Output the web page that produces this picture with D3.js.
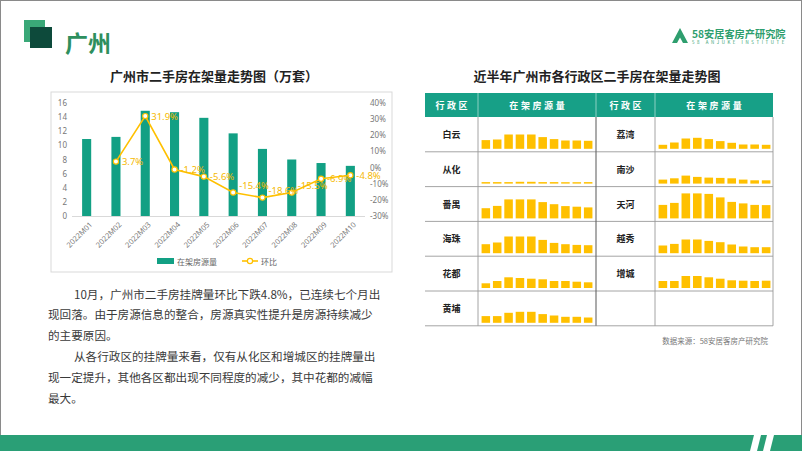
<!DOCTYPE html>
<html><head><meta charset="utf-8">
<script src="https://cdn.jsdelivr.net/npm/d3@7"></script>
<style>
html,body{margin:0;padding:0;background:#fff;}
svg{display:block;font-family:"Noto Sans CJK SC","Noto Sans",sans-serif;}
</style></head><body>
<svg id="c" width="802" height="451"></svg>
<script>
// ---------- data ----------
const months = ["2022M01","2022M02","2022M03","2022M04","2022M05","2022M06","2022M07","2022M08","2022M09","2022M10"];
const stock = [10.9, 11.2, 14.9, 14.7, 13.9, 11.7, 9.5, 8.0, 7.5, 7.1];
const mom = [null, 3.7, 31.9, -1.2, -5.6, -15.4, -18.6, -15.5, -6.9, -4.8];
const leftTicks = [0, 2, 4, 6, 8, 10, 12, 14, 16];
const rightTicks = [-30, -20, -10, 0, 10, 20, 30, 40];
const legendNames = ["在架房源量", "环比"];

const districtsLeft = ["白云", "从化", "番禺", "海珠", "花都", "黄埔"];
const districtsRight = ["荔湾", "南沙", "天河", "越秀", "增城"];
const baiyun  = [8.7, 9.3, 14.3, 14.3, 14.3, 11.7, 9.7, 8.3, 8.3, 8.0];
const conghua = [1.5, 1.5, 1.5, 1.8, 1.8, 1.5, 1.5, 1.4, 1.4, 1.5];
const panyu   = [10.2, 12.5, 19, 19, 19, 16.3, 14.2, 12.3, 11.7, 11];
const haizhu  = [9, 10.7, 16.7, 16.7, 16.7, 13.3, 10.3, 9, 8.3, 8];
const huadu   = [4.7, 7, 10.7, 10, 9.3, 8.7, 7, 7, 6.3, 5.7];
const huangpu = [6.7, 6.7, 10, 11, 11, 8.7, 7.3, 6, 6, 5.3];
const liwan   = [4, 6.3, 10.3, 11, 9.7, 7.7, 6, 4.3, 4.3, 4];
const nansha  = [4, 5.3, 8, 6.7, 6, 5.7, 5.3, 4, 3.3, 3.3];
const tianhe  = [13.5, 15.5, 25, 25, 24.5, 21, 16.5, 15, 13.5, 13.3];
const yuexiu  = [7.7, 9.3, 13.7, 13.7, 12.3, 11, 8.7, 6.7, 6, 6];
const zengcheng = [7, 7, 12, 12, 10.7, 9.3, 7.7, 7.3, 7, 7.3];
const valuesLeft = [baiyun, conghua, panyu, haizhu, huadu, huangpu];
const valuesRight = [liwan, nansha, tianhe, yuexiu, zengcheng];

const paragraph = [
  "10月，广州市二手房挂牌量环比下跌4.8%，已连续七个月出",
  "现回落。由于房源信息的整合，房源真实性提升是房源持续减少",
  "的主要原因。",
  "从各行政区的挂牌量来看，仅有从化区和增城区的挂牌量出",
  "现一定提升，其他各区都出现不同程度的减少，其中花都的减幅",
  "最大。"
];

// ---------- drawing ----------
const svg = d3.select("#c");
const TEAL = "#12a084", YEL = "#FFC000";

svg.append("rect").attr("x",0.5).attr("y",0.5).attr("width",801).attr("height",450)
  .attr("fill","#fff").attr("stroke","#8a8a8a");

// header
svg.append("rect").attr("x",24).attr("y",20).attr("width",21).attr("height",22).attr("fill","#3aa878");
svg.append("rect").attr("x",30).attr("y",27).attr("width",22).attr("height",21).attr("fill","#0d4a3b");
svg.append("text").attr("x",65).attr("y",42).attr("dominant-baseline","central")
  .attr("font-size",23).attr("font-weight",700).attr("fill","#2e8f5e").text("广州");

// logo
const lg = svg.append("g");
lg.append("path").attr("d","M672,43 L680,28 L688,43 Z").attr("fill","#2e9e6e");
lg.append("path").attr("d","M677,43 L680,37.5 L683,43 Z").attr("fill","#fff");
lg.append("text").attr("x",692).attr("y",33).attr("dominant-baseline","central")
  .attr("font-size",10.2).attr("font-weight",700).attr("fill","#2e9e6e").text("58安居客房产研究院");
lg.append("text").attr("x",692).attr("y",42).attr("dominant-baseline","central")
  .attr("font-size",4.4).attr("letter-spacing",2.6).attr("fill","#2e9e6e").text("58 ANJUKE INSTITUTE");

// titles
svg.append("text").attr("x",214).attr("y",75).attr("text-anchor","middle").attr("dominant-baseline","central")
  .attr("font-size",13).attr("font-weight",700).attr("fill","#222").text("广州市二手房在架量走势图（万套）");
svg.append("text").attr("x",597).attr("y",75).attr("text-anchor","middle").attr("dominant-baseline","central")
  .attr("font-size",13).attr("font-weight",700).attr("fill","#222").text("近半年广州市各行政区二手房在架量走势图");

// ---------- left chart ----------
svg.append("rect").attr("x",51).attr("y",92).attr("width",341).attr("height",180)
  .attr("fill","none").attr("stroke","#d9d9d9");

const x = d3.scaleBand().domain(months).range([72,365]).paddingInner(0.69).paddingOuter(0.345);
const yL = d3.scaleLinear().domain([0,16]).range([216,103]);
const yR = d3.scaleLinear().domain([-30,40]).range([216,103]);
const cx = m => x(m) + x.bandwidth()/2;

const ch = svg.append("g");
ch.selectAll("rect.bar").data(stock).join("rect").attr("class","bar")
  .attr("x",(d,i)=>x(months[i])).attr("width",x.bandwidth())
  .attr("y",d=>yL(d)).attr("height",d=>yL(0)-yL(d)).attr("fill",TEAL);

ch.append("line").attr("x1",72).attr("x2",365).attr("y1",216.5).attr("y2",216.5).attr("stroke","#d9d9d9");

const axL = d3.axisLeft(yL).tickValues(leftTicks).tickSize(0).tickPadding(0);
const gL = ch.append("g").attr("transform","translate(67,0)").call(axL);
gL.select(".domain").remove();
gL.selectAll("text").attr("font-size",8).attr("fill","#777").attr("font-family","Noto Sans, sans-serif");

const axR = d3.axisRight(yR).tickValues(rightTicks).tickFormat(d=>d+"%").tickSize(0).tickPadding(0);
const gR = ch.append("g").attr("transform","translate(370,0)").call(axR);
gR.select(".domain").remove();
gR.selectAll("text").attr("font-size",8).attr("fill","#777").attr("font-family","Noto Sans, sans-serif");

// x labels
ch.selectAll("text.xl").data(months).join("text").attr("class","xl")
  .attr("transform",d=>`translate(${cx(d)+4},223) rotate(-45)`)
  .attr("text-anchor","end").attr("dominant-baseline","central")
  .attr("font-size",7.5).attr("fill","#777").attr("font-family","Noto Sans, sans-serif").text(d=>d);

// line
const pts = mom.map((v,i)=>({m:months[i],v})).filter(d=>d.v!==null);
const line = d3.line().x(d=>cx(d.m)).y(d=>yR(d.v));
ch.append("path").datum(pts).attr("d",line).attr("fill","none").attr("stroke",YEL).attr("stroke-width",1.6);
ch.selectAll("circle.pt").data(pts).join("circle").attr("class","pt")
  .attr("cx",d=>cx(d.m)).attr("cy",d=>yR(d.v)).attr("r",2.6)
  .attr("fill","#fff").attr("stroke",YEL).attr("stroke-width",1.2);
ch.selectAll("text.lab").data(pts).join("text").attr("class","lab")
  .attr("x",d=>cx(d.m)+6).attr("y",d=>yR(d.v) - (d.v < -10 ? 7 : 0))
  .attr("dominant-baseline","central").attr("font-size",9.5).attr("fill","#F5B800")
  .attr("font-family","Noto Sans, sans-serif").text(d=>d.v.toFixed(1)+"%");

// legend
const leg = ch.append("g");
leg.append("rect").attr("x",157).attr("y",258).attr("width",17).attr("height",6).attr("fill",TEAL);
leg.append("text").attr("x",177).attr("y",261).attr("dominant-baseline","central")
  .attr("font-size",8).attr("fill","#666").text(legendNames[0]);
leg.append("line").attr("x1",242).attr("x2",258).attr("y1",261).attr("y2",261).attr("stroke",YEL).attr("stroke-width",1.6);
leg.append("circle").attr("cx",250).attr("cy",261).attr("r",2.6).attr("fill","#fff").attr("stroke",YEL).attr("stroke-width",1.2);
leg.append("text").attr("x",261).attr("y",261).attr("dominant-baseline","central")
  .attr("font-size",8).attr("fill","#666").text(legendNames[1]);

// paragraph
svg.selectAll("text.para").data(paragraph).join("text").attr("class","para")
  .attr("x",(d,i)=> (i===0||i===3) ? 74 : 48)
  .attr("y",(d,i)=>293.5 + i*20.8).attr("dominant-baseline","central")
  .attr("font-size",11.6).attr("fill","#3a3a3a").text(d=>d);

// ---------- right table ----------
const T = {x0:425, c1:478, c2:596, c3:655, x1:773, top:93, head:117, rowH:34.8, nRows:6};
const tb = svg.append("g");
tb.append("rect").attr("x",T.x0).attr("y",T.top).attr("width",T.x1-T.x0).attr("height",T.head-T.top).attr("fill","#17a087");
[T.c1, T.c2, T.c3].forEach(xx=>{
  tb.append("line").attr("x1",xx).attr("x2",xx).attr("y1",T.top).attr("y2",T.head).attr("stroke","#ffffff").attr("stroke-opacity",0.5);
});
const headers = [["行政区",(T.x0+T.c1)/2],["在架房源量",(T.c1+T.c2)/2],["行政区",(T.c2+T.c3)/2],["在架房源量",(T.c3+T.x1)/2]];
headers.forEach(([t,xx])=>{
  tb.append("text").attr("x",xx+1.3).attr("y",(T.top+T.head)/2).attr("text-anchor","middle").attr("dominant-baseline","central")
    .attr("font-size",9).attr("font-weight",700).attr("letter-spacing",2.6).attr("fill","#fff")
    .attr("font-family","Noto Sans CJK SC, serif").text(t);
});
const bottom = T.head + T.rowH*T.nRows;
for (let r=1; r<=T.nRows; r++){
  const yy = T.head + r*T.rowH;
  tb.append("line").attr("x1",T.x0).attr("x2",T.x1).attr("y1",yy).attr("y2",yy).attr("stroke","#9a9a9a").attr("stroke-width",0.9);
}
[T.c1, T.c2, T.c3, T.x1].forEach(xx=>{
  tb.append("line").attr("x1",xx).attr("x2",xx).attr("y1",T.head).attr("y2",bottom)
    .attr("stroke", xx===T.c2 ? "#666" : "#9a9a9a").attr("stroke-width", xx===T.c2?1.1:0.9);
});

const allVals = valuesLeft.concat(valuesRight).flat();
const hScale = d3.scaleLinear().domain([0, d3.max(allVals)]).range([0, 25]);
function cell(name, vals, r, nameX, bx0, bx1){
  const yTop = T.head + r*T.rowH;
  tb.append("text").attr("x",nameX).attr("y",yTop + T.rowH/2).attr("text-anchor","middle").attr("dominant-baseline","central")
    .attr("font-size",9).attr("font-weight",700).attr("fill","#222").text(name);
  const bx = d3.scaleBand().domain(d3.range(vals.length)).range([bx0,bx1]).paddingInner(0.25).paddingOuter(0.05);
  const base = yTop + T.rowH - 3;
  tb.selectAll(null).data(vals).join("rect")
    .attr("x",(d,i)=>bx(i)).attr("width",bx.bandwidth())
    .attr("y",d=>base - hScale(d)).attr("height",d=>hScale(d)).attr("fill",YEL);
}
districtsLeft.forEach((n,i)=>cell(n, valuesLeft[i], i, (T.x0+T.c1)/2, T.c1+3, T.c2-3));
districtsRight.forEach((n,i)=>cell(n, valuesRight[i], i, (T.c2+T.c3)/2, T.c3+3, T.x1-2));

svg.append("text").attr("x",768).attr("y",340.5).attr("text-anchor","end").attr("dominant-baseline","central")
  .attr("font-size",7.5).attr("fill","#777").text("数据来源：58安居客房产研究院");

// ---------- footer ----------
svg.append("rect").attr("x",0).attr("y",435).attr("width",802).attr("height",16).attr("fill","#2a9f76");
svg.append("path").attr("d","M750,451 L757,451 L761,435 L754,435 Z").attr("fill","#fff");
svg.append("path").attr("d","M763,451 L770,451 L774,435 L767,435 Z").attr("fill","#fff");
</script>
</body></html>
